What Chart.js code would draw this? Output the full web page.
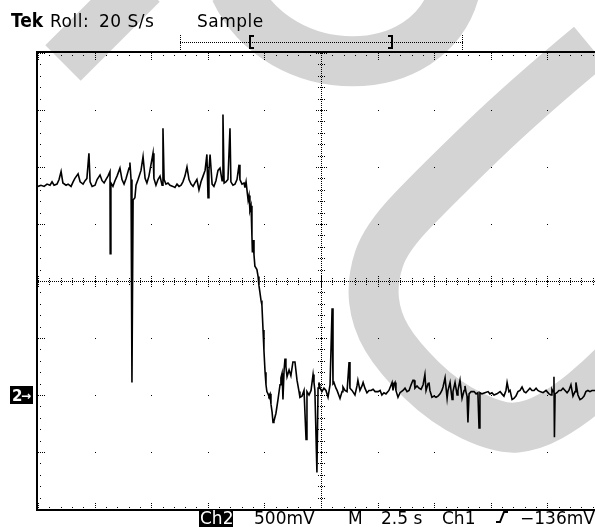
<!DOCTYPE html>
<html>
<head>
<meta charset="utf-8">
<script src="https://cdn.jsdelivr.net/npm/chart.js@4/dist/chart.umd.min.js"></script>
<style>
  html, body { margin: 0; padding: 0; background: #fff; overflow: hidden; }
  #scope { display: block; }
</style>
</head>
<body>
<canvas id="scope" width="620" height="527"></canvas>
<script>
// Ch2 roll capture: 10 div x 2.5 s, 8 div x 500 mV, ground marker at 0 V
const tiempos = [
  0.00, 0.13, 0.27, 0.40, 0.53, 0.62, 0.71, 0.84, 0.93, 1.02, 1.10, 1.24, 1.33, 1.46, 1.55, 1.63,
  1.77, 1.86, 1.99, 2.08, 2.16, 2.25, 2.30, 2.39, 2.52, 2.61, 2.74, 2.83, 2.92, 3.00, 3.09, 3.18,
  3.19, 3.22, 3.31, 3.40, 3.49, 3.62, 3.71, 3.80, 3.89, 4.02, 4.06, 4.11, 4.15, 4.20, 4.28, 4.33,
  4.42, 4.55, 4.64, 4.73, 4.81, 4.90, 4.99, 5.08, 5.12, 5.21, 5.30, 5.39, 5.48, 5.52, 5.57, 5.65,
  5.74, 5.83, 5.96, 6.05, 6.14, 6.23, 6.32, 6.40, 6.49, 6.58, 6.67, 6.76, 6.85, 6.93, 7.02, 7.11,
  7.20, 7.29, 7.38, 7.46, 7.51, 7.55, 7.60, 7.69, 7.77, 7.86, 7.95, 8.04, 8.13, 8.17, 8.22, 8.30,
  8.39, 8.48, 8.52, 8.61, 8.70, 8.79, 8.88, 8.92, 9.01, 9.10, 9.14, 9.19, 9.28, 9.32, 9.36, 9.41,
  9.45, 9.47, 9.50, 9.54, 9.58, 9.67, 9.72, 9.76, 9.81, 9.85, 9.89, 9.94, 9.98, 10.03, 10.07, 10.11,
  10.16, 10.20, 10.25, 10.29, 10.34, 10.38, 10.42, 10.51, 10.60, 10.69, 10.73, 10.78, 10.82, 10.87, 10.91, 10.95,
  11.00, 11.09, 11.17, 11.26, 11.35, 11.44, 11.53, 11.57, 11.66, 11.75, 11.84, 11.88, 11.97, 12.06, 12.15, 12.19,
  12.23, 12.32, 12.37, 12.41, 12.46, 12.54, 12.63, 12.72, 12.81, 12.90, 12.99, 13.03, 13.07, 13.16, 13.21, 13.34,
  13.43, 13.47, 13.56, 13.65, 13.74, 13.78, 13.87, 14.00, 14.09, 14.13, 14.22, 14.31, 14.36, 14.44, 14.53, 14.62,
  14.71, 14.80, 14.89, 15.02, 15.11, 15.19, 15.28, 15.37, 15.50, 15.64, 15.68, 15.72, 15.77, 15.81, 15.90, 15.99,
  16.12, 16.21, 16.30, 16.39, 16.48, 16.56, 16.61, 16.65, 16.74, 16.83, 16.92, 17.01, 17.09, 17.14, 17.23, 17.27,
  17.31, 17.40, 17.49, 17.58, 17.67, 17.76, 17.84, 17.89, 17.98, 18.07, 18.11, 18.20, 18.29, 18.33, 18.42, 18.51,
  18.55, 18.64, 18.73, 18.82, 18.86, 18.90, 18.95, 18.99, 19.04, 19.13, 19.26, 19.35, 19.43, 19.48, 19.52, 19.61,
  19.74, 19.88, 19.96, 20.05, 20.14, 20.27, 20.41, 20.49, 20.58, 20.67, 20.72, 20.80, 20.85, 20.94, 21.02, 21.11,
  21.20, 21.29, 21.38, 21.47, 21.55, 21.64, 21.73, 21.82, 21.91, 22.00, 22.08, 22.17, 22.31, 22.44, 22.57, 22.66,
  22.70, 22.75, 22.79, 22.81, 22.84, 22.92, 23.01, 23.10, 23.19, 23.28, 23.37, 23.45, 23.54, 23.63, 23.72, 23.76,
  23.85, 23.94, 24.03, 24.12, 24.20, 24.29, 24.38, 24.47, 24.60, 24.73, 24.87, 25.00
];
const voltios = [
  1.83, 1.84, 1.83, 1.85, 1.84, 1.87, 1.84, 1.85, 1.89, 1.96, 1.86, 1.84, 1.85, 1.83, 1.87, 1.90,
  1.94, 1.87, 1.85, 1.88, 1.90, 2.12, 1.87, 1.83, 1.84, 1.89, 1.93, 1.88, 1.86, 1.89, 1.92, 1.96,
  1.24, 1.86, 1.83, 1.88, 1.92, 1.99, 1.89, 1.85, 1.90, 1.99, 2.04, 1.89, 0.11, 1.71, 1.73, 1.84,
  1.89, 1.97, 2.09, 1.90, 1.86, 1.92, 2.02, 2.12, 1.90, 1.84, 1.89, 1.92, 1.84, 2.34, 1.89, 1.85,
  1.86, 1.84, 1.83, 1.82, 1.85, 1.83, 1.84, 1.87, 1.92, 2.00, 1.89, 1.85, 1.83, 1.86, 1.89, 1.80,
  1.87, 1.92, 1.97, 2.11, 1.73, 1.97, 2.11, 1.85, 1.83, 1.88, 1.97, 1.99, 1.88, 2.46, 1.86, 1.87,
  1.89, 2.34, 1.87, 1.84, 1.85, 1.89, 2.02, 1.89, 1.85, 1.86, 1.82, 1.87, 1.71, 1.75, 1.62, 1.66,
  1.39, 1.25, 1.36, 1.23, 1.13, 1.10, 1.04, 0.96, 0.89, 0.83, 0.79, 0.57, 0.39, 0.20, 0.09, 0.03,
  0.01, -0.01, 0.01, -0.08, -0.15, -0.24, -0.23, -0.16, -0.04, 0.09, 0.15, 0.19, -0.04, 0.22, 0.32, 0.25,
  0.16, 0.22, 0.17, 0.29, 0.29, 0.13, 0.03, -0.02, -0.01, 0.04, -0.39, 0.03, 0.00, 0.04, 0.18, 0.11,
  0.04, -0.68, 0.06, 0.11, 0.06, 0.03, 0.06, 0.04, -0.02, 0.09, 0.76, 0.10, 0.11, 0.06, 0.04, -0.03,
  0.03, 0.07, 0.04, 0.03, 0.29, 0.06, 0.04, 0.00, 0.08, 0.13, 0.04, 0.08, 0.11, 0.06, 0.02, 0.04,
  0.04, 0.05, 0.03, 0.03, 0.04, 0.00, 0.02, 0.01, 0.04, 0.11, 0.04, 0.09, 0.11, 0.04, -0.02, 0.02,
  0.04, 0.06, 0.03, 0.04, 0.09, 0.13, 0.13, 0.06, 0.08, 0.06, 0.05, 0.09, 0.18, 0.04, 0.10, 0.11,
  0.04, -0.02, -0.01, -0.02, -0.01, 0.01, 0.04, 0.07, 0.15, -0.03, 0.04, 0.11, -0.04, 0.03, 0.11, 0.00,
  0.04, 0.13, -0.03, 0.04, 0.08, 0.03, -0.01, -0.24, 0.01, 0.03, 0.03, 0.01, 0.02, -0.29, 0.02, 0.01,
  0.02, 0.03, 0.01, 0.02, 0.00, 0.01, 0.03, 0.01, -0.01, 0.04, 0.11, 0.03, 0.04, -0.04, -0.03, -0.01,
  0.03, 0.04, 0.07, 0.03, 0.02, 0.04, 0.06, 0.04, 0.04, 0.06, 0.04, 0.03, 0.02, 0.04, 0.01, 0.00,
  0.05, 0.03, 0.16, -0.37, 0.01, 0.02, 0.04, 0.04, 0.06, 0.04, 0.02, 0.04, 0.09, -0.01, 0.03, 0.11,
  0.00, -0.04, -0.03, -0.01, 0.03, 0.04, 0.03, 0.04, 0.04, 0.02, 0.04, 0.03
];

// Escalas del osciloscopio
const tMin = 0, tMax = 25, divT = 2.5;      // 2.5 s/div
const vMin = -1, vMax = 3, divV = 0.5;      // 500 mV/div
const nivelTierra = 0;

const textoArriba = ["Tek", "Roll:", "20 S/s", "Sample"];
const textoAbajo = ["Ch2", "500mV", "M", "2.5 s", "Ch1", "\u2212136mV"];

const FUENTE = '"DejaVu Sans", sans-serif';

// Marca de agua gris detrás de la pantalla
function suavizado(ctx, pts) {
  ctx.beginPath();
  ctx.moveTo(pts[0][0], pts[0][1]);
  for (let i = 1; i < pts.length - 1; i++) {
    const mx = (pts[i][0] + pts[i + 1][0]) / 2;
    const my = (pts[i][1] + pts[i + 1][1]) / 2;
    ctx.quadraticCurveTo(pts[i][0], pts[i][1], mx, my);
  }
  const u = pts[pts.length - 1];
  ctx.lineTo(u[0], u[1]);
  ctx.stroke();
}

const marcaAgua = {
  id: "marcaAgua",
  beforeDraw(chart) {
    const ctx = chart.ctx;
    ctx.save();
    ctx.fillStyle = "#fff";
    ctx.fillRect(0, 0, chart.width, chart.height);
    ctx.strokeStyle = "#d4d4d4";
    ctx.lineWidth = 50;
    ctx.lineCap = "butt";
    ctx.lineJoin = "round";
    ctx.beginPath();
    ctx.moveTo(63, 63);
    ctx.lineTo(142, -16);
    ctx.stroke();
    ctx.beginPath();
    ctx.moveTo(235, -10);
    ctx.bezierCurveTo(280, 85, 430, 85, 455, -10);
    ctx.stroke();
    suavizado(ctx, [
      [590, 46], [525, 100], [438, 184], [386, 238], [372, 280], [376, 320],
      [398, 357], [445, 403], [500, 429], [533, 426], [567, 407], [600, 380], [630, 350]
    ]);
    ctx.restore();
  }
};

// Retícula: marco, ejes centrales punteados, puntos en cada división
const reticula = {
  id: "reticula",
  beforeDatasetsDraw(chart) {
    const { ctx, chartArea: a, scales: { x, y } } = chart;
    const dot = (px, py) => ctx.fillRect(px, py, 1, 1);
    const cx = Math.round(x.getPixelForValue((tMin + tMax) / 2));
    const cy = Math.round(y.getPixelForValue((vMin + vMax) / 2));
    const top = Math.round(a.top), bot = Math.round(a.bottom), left = Math.round(a.left);
    ctx.save();
    ctx.fillStyle = "#000";

    // ejes centrales
    for (let py = top; py <= bot; py += 2) dot(cx, py);
    for (let px = left; px <= a.right; px += 2) dot(px, cy);

    const pasoT = divT / 5, pasoV = divV / 5;
    for (let i = 0; i <= (tMax - tMin) / pasoT; i++) {
      const px = Math.round(x.getPixelForValue(tMin + i * pasoT));
      const mayor = i % 5 === 0;
      const l = mayor ? 6 : 3;
      for (let k = 2; k <= l; k += 2) { dot(px, top + k); dot(px, bot - k); }
      for (let k = -3; k <= 3; k += 2) dot(px, cy + k);
      if (mayor) for (let k = -5; k <= 5; k += 2) dot(px, cy + k);
    }
    for (let j = 0; j <= (vMax - vMin) / pasoV; j++) {
      const py = Math.round(y.getPixelForValue(vMin + j * pasoV));
      const mayor = j % 5 === 0;
      const l = mayor ? 6 : 3;
      for (let k = 2; k <= l; k += 2) dot(left + k, py);
      for (let k = -3; k <= 3; k += 2) dot(cx + k, py);
      if (mayor) for (let k = -5; k <= 5; k += 2) dot(cx + k, py);
    }
    // puntos en las intersecciones de divisiones
    for (let t = tMin; t <= tMax; t += divT) {
      for (let v = vMin; v <= vMax; v += divV) {
        dot(Math.round(x.getPixelForValue(t)), Math.round(y.getPixelForValue(v)));
      }
    }
    // marco
    ctx.strokeStyle = "#000";
    ctx.lineWidth = 2;
    ctx.strokeRect(left - 1, top - 1, a.right - left + 2, bot - top + 2);
    ctx.restore();
  },
  afterDraw(chart) {
    const { ctx, scales: { y } } = chart;
    ctx.save();
    ctx.fillStyle = "#000";
    ctx.textBaseline = "alphabetic";
    ctx.font = 'bold 19px "DejaVu Sans Condensed", ' + FUENTE;
    ctx.fillText(textoArriba[0], 11, 27);
    ctx.font = "17px " + FUENTE;
    ctx.letterSpacing = "0.5px";
    ctx.fillText(textoArriba[1], 50, 27);
    ctx.fillText(textoArriba[2], 99, 27);
    ctx.fillText(textoArriba[3], 197, 27);
    ctx.letterSpacing = "0px";

    // barra del registro
    const dot = (px, py) => ctx.fillRect(px, py, 1, 1);
    for (let px = 180; px <= 462; px += 2) dot(px, 42);
    for (let py = 35; py <= 49; py += 2) { dot(180, py); dot(462, py); }
    ctx.fillRect(249, 35, 2, 14);
    ctx.fillRect(249, 35, 5, 2);
    ctx.fillRect(249, 47, 5, 2);
    ctx.fillRect(391, 35, 2, 14);
    ctx.fillRect(388, 35, 5, 2);
    ctx.fillRect(388, 47, 5, 2);

    // lectura inferior
    ctx.font = "17px " + FUENTE;
    ctx.fillRect(199, 509, 34, 18);
    ctx.fillStyle = "#fff";
    ctx.fillText(textoAbajo[0], 200, 524);
    ctx.fillStyle = "#000";
    ctx.fillText(textoAbajo[1], 254, 524);
    ctx.fillText(textoAbajo[2], 348, 524);
    ctx.fillText(textoAbajo[3], 381, 524);
    ctx.fillText(textoAbajo[4], 442, 524);
    ctx.fillText(textoAbajo[5], 520, 524);

    // símbolo de flanco de subida del disparo
    ctx.strokeStyle = "#000";
    ctx.lineWidth = 2;
    ctx.beginPath();
    ctx.moveTo(496, 522);
    ctx.lineTo(500, 522);
    ctx.lineTo(504, 512);
    ctx.lineTo(508, 512);
    ctx.stroke();

    // marcador de tierra del canal 2
    const gy = Math.round(y.getPixelForValue(nivelTierra));
    ctx.fillRect(10, gy - 9, 23, 18);
    ctx.fillStyle = "#fff";
    ctx.font = "bold 15px " + FUENTE;
    ctx.fillText("2", 12, gy + 6);
    ctx.font = "bold 12px " + FUENTE;
    ctx.fillText("\u2192", 21, gy + 5);
    ctx.restore();
  }
};

const ctxScope = document.getElementById("scope").getContext("2d");
new Chart(ctxScope, {
  type: "line",
  data: {
    datasets: [
      {
        label: "Ch2",
        data: tiempos.map((t, i) => ({ x: t, y: voltios[i] })),
        borderColor: "#000",
        borderWidth: 1.6,
        pointRadius: 0,
        tension: 0,
        fill: false,
      },
    ],
  },
  options: {
    responsive: false,
    animation: false,
    events: [],
    layout: { padding: { left: 38, top: 53, right: 16, bottom: 18 } },
    scales: {
      x: { type: "linear", min: tMin, max: tMax, display: false },
      y: { type: "linear", min: vMin, max: vMax, display: false },
    },
    plugins: {
      legend: { display: false },
      tooltip: { enabled: false },
    },
  },
  plugins: [marcaAgua, reticula],
});
</script>
</body>
</html>
